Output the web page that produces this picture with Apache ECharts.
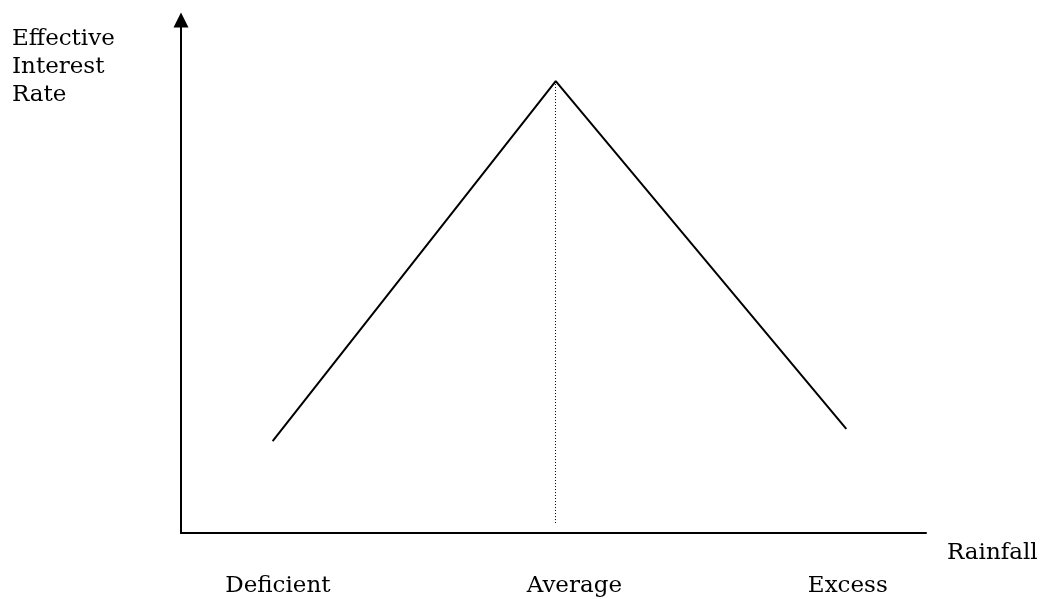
<!DOCTYPE html>
<html>
<head>
<meta charset="utf-8">
<script src="https://cdn.jsdelivr.net/npm/echarts@6/dist/echarts.min.js"></script>
<style>
  html, body { margin: 0; padding: 0; background: #fff; }
  #chart { width: 1046px; height: 599px; }
</style>
</head>
<body>
<div id="chart"></div>
<script>
// rainfall position (0-100) and effective interest rate (0-100)
const rainfallX = [12.3, 50.3, 89.3]
const interestY = [17.9, 88.1, 20.3]

// category labels under the x axis and where they sit on the rainfall scale
const categoryNames = ['Deficient', 'Average', 'Excess']
const categoryX = [13.0, 52.8, 89.5]

// the dotted drop line goes from the peak down to just above the axis
const peakIndex = 1
const dropBottomY = 1.9

const FONT = 'DejaVu Serif'

const chart = echarts.init(document.getElementById('chart'))

const labelMap = {}
categoryX.forEach((x, i) => { labelMap[x] = categoryNames[i] })

chart.setOption({
  animation: false,
  backgroundColor: '#fff',
  grid: { left: 181, right: 120, top: 20, bottom: 66 },
  xAxis: {
    type: 'value',
    min: 0,
    max: 100,
    name: 'Rainfall',
    nameLocation: 'end',
    nameGap: 21,
    nameTextStyle: {
      fontFamily: FONT, fontSize: 23, color: '#000',
      verticalAlign: 'top', padding: [9, 0, 0, 0]
    },
    axisLine: { show: true, lineStyle: { color: '#000', width: 2 } },
    axisTick: { show: false },
    splitLine: { show: false },
    axisLabel: {
      customValues: categoryX,
      formatter: v => labelMap[v] || '',
      margin: 42,
      fontFamily: FONT, fontSize: 23, color: '#000'
    }
  },
  yAxis: {
    type: 'value',
    min: 0,
    max: 100,
    axisLine: {
      show: true,
      symbol: ['none', 'triangle'],
      symbolSize: [15, 15],
      lineStyle: { color: '#000', width: 2 }
    },
    axisTick: { show: false },
    axisLabel: { show: false },
    splitLine: { show: false }
  },
  graphic: [{
    type: 'text',
    left: 12,
    top: 25,
    style: {
      text: 'Effective\nInterest\nRate',
      font: '23px "DejaVu Serif"',
      lineHeight: 28,
      fill: '#000'
    }
  }],
  series: [{
    type: 'line',
    data: rainfallX.map((x, i) => [x, interestY[i]]),
    symbol: 'none',
    lineStyle: { color: '#000', width: 2 },
    markLine: {
      silent: true,
      symbol: 'none',
      label: { show: false },
      lineStyle: { color: '#000', width: 1, type: [1, 2] },
      data: [[
        { coord: [rainfallX[peakIndex], interestY[peakIndex]] },
        { coord: [rainfallX[peakIndex], dropBottomY] }
      ]]
    }
  }]
})
</script>
</body>
</html>
